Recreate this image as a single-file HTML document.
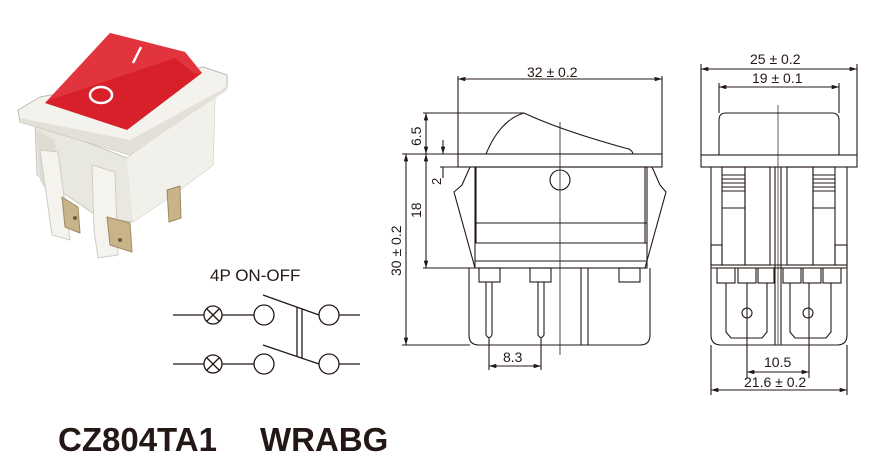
<!DOCTYPE html>
<html><head><meta charset="utf-8"><style>
body{margin:0;background:#fff}
svg{display:block}
text{font-family:"Liberation Sans",sans-serif;fill:#231815}
</style></head><body>
<svg width="892" height="462" viewBox="0 0 892 462" xmlns="http://www.w3.org/2000/svg">
<defs>
<marker id="a" viewBox="0 0 10 6" refX="10" refY="3" markerWidth="8" markerHeight="4" orient="auto-start-reverse"><path d="M0,0 L10,3 L0,6 Z" fill="#231815"/></marker>
</defs>
<!-- photo -->
<g stroke-linejoin="round">
<polygon points="35,122 127,158 215,92 213,165 173,195 133,222 100,218 37,175" fill="#e9e8e0" stroke="#c9c7bd"/>
<polygon points="127,158 215,92 213,165 173,195 133,222" fill="#f1f0ea"/>
<polygon points="36,130 55,140 60,215 40,180" fill="#dedcd2"/>
<polygon points="92,165 115,172 118,255 98,258 94,230" fill="#f4f3ee" stroke="#cfcdc3"/>
<polygon points="40,150 58,152 70,240 52,235" fill="#f4f3ee" stroke="#cfcdc3"/>
<polygon points="62,197 78,207 80,233 65,227" fill="#c9b48a" stroke="#9c8a62"/>
<polygon points="107,217 130,223 132,252 110,245" fill="#c9b48a" stroke="#9c8a62"/>
<polygon points="167,190 180,186 181,218 169,222" fill="#c9b48a" stroke="#9c8a62"/>
<circle cx="75" cy="218" r="2" fill="#6b5a3a"/><circle cx="120" cy="240" r="2" fill="#6b5a3a"/>
<polygon points="18,110 40,97 203,67 227,75 227,87 130,155 20,122" fill="#f3f2ec" stroke="#bdbab0"/>
<polygon points="130,140 227,87 227,90 130,155 20,122 20,118" fill="#e2e0d8"/>
<polygon points="110,33 185,52 202,73 127,130 45,103" fill="#d8202b"/>
<polygon points="110,33 185,52 202,73 195,74 175,58 50,100 45,103" fill="#e8424a" opacity=".6"/>
<line x1="141" y1="47" x2="133" y2="63" stroke="#fff" stroke-width="2.5"/>
<ellipse cx="101" cy="95" rx="11" ry="8" fill="none" stroke="#fff" stroke-width="2.5"/>
</g>
<!-- schematic -->
<text x="210" y="281" font-size="17">4P  ON-OFF</text>
<g stroke="#231815" stroke-width="1.3" fill="none">
<line x1="173" y1="315" x2="204" y2="315"/><circle cx="213" cy="315" r="9"/>
<line x1="207" y1="309" x2="219" y2="321"/><line x1="219" y1="309" x2="207" y2="321"/>
<line x1="222" y1="315" x2="254" y2="315"/><circle cx="264" cy="315" r="10"/>
<line x1="263" y1="295" x2="319" y2="315"/><circle cx="329" cy="315" r="10"/><line x1="339" y1="315" x2="360" y2="315"/>
<line x1="173" y1="364" x2="204" y2="364"/><circle cx="213" cy="364" r="9"/>
<line x1="207" y1="358" x2="219" y2="370"/><line x1="219" y1="358" x2="207" y2="370"/>
<line x1="222" y1="364" x2="254" y2="364"/><circle cx="264" cy="364" r="10"/>
<line x1="263" y1="345" x2="319" y2="364"/><circle cx="329" cy="364" r="10"/><line x1="339" y1="364" x2="360" y2="364"/>
<line x1="297" y1="307" x2="297" y2="356"/><line x1="302" y1="309" x2="302" y2="358"/>
</g>
<!-- middle view -->
<g stroke="#231815" stroke-width="1.1" fill="none">
<line x1="458" y1="76" x2="458" y2="154"/><line x1="662" y1="76" x2="662" y2="154"/>
<line x1="458" y1="79" x2="662" y2="79" marker-start="url(#a)" marker-end="url(#a)"/>
<path d="M486,154 Q500,120 524,113 Q560,130 625,148 Q632,149 633,154"/>
<rect x="458" y="154" width="204" height="13"/>
<rect x="475" y="167" width="172" height="101"/>
<line x1="476" y1="167" x2="476" y2="243"/><line x1="645" y1="167" x2="645" y2="243"/>
<line x1="475" y1="223" x2="647" y2="223"/><line x1="475" y1="243" x2="647" y2="243"/><line x1="475" y1="261" x2="647" y2="261"/>
<path d="M470,167 L462,185 L454,192 L470,250 L475,268"/>
<path d="M652,167 L660,185 L666,192 L650,250 L645,268"/>
<circle cx="560" cy="180" r="10"/>
<path d="M469,268 L469,335 Q469,345 479,345 L640,345 Q650,345 650,335 L650,268"/>
<rect x="479" y="268" width="21" height="14"/><rect x="530" y="268" width="21" height="14"/><rect x="619" y="268" width="21" height="14"/>
<path d="M486,282 L486,335 Q489,340 492,335 L492,282"/>
<path d="M538,282 L538,335 Q541,340 544,335 L544,282"/>
<line x1="581" y1="268" x2="581" y2="345"/><line x1="588" y1="268" x2="588" y2="345"/>
<line x1="560" y1="122" x2="560" y2="355" stroke-width=".8"/>
<line x1="423" y1="113" x2="524" y2="113"/><line x1="402" y1="154" x2="458" y2="154"/>
<line x1="440" y1="167" x2="475" y2="167"/><line x1="423" y1="268" x2="475" y2="268"/><line x1="402" y1="345" x2="470" y2="345"/>
<line x1="406" y1="154" x2="406" y2="345" marker-start="url(#a)" marker-end="url(#a)"/>
<line x1="426" y1="113" x2="426" y2="154" marker-start="url(#a)" marker-end="url(#a)"/>
<line x1="426" y1="154" x2="426" y2="268" marker-start="url(#a)" marker-end="url(#a)"/>
<line x1="443" y1="140" x2="443" y2="154" marker-end="url(#a)"/>
<line x1="443" y1="167" x2="443" y2="178"/>
<line x1="489" y1="337" x2="489" y2="370"/><line x1="541" y1="337" x2="541" y2="370"/>
<line x1="489" y1="366" x2="541" y2="366" marker-start="url(#a)" marker-end="url(#a)"/>
</g>
<text x="527" y="77" font-size="14">32 ± 0.2</text>
<text transform="translate(421,146) rotate(-90)" font-size="14">6.5</text>
<text transform="translate(441,185) rotate(-90)" font-size="13">2</text>
<text transform="translate(421,218) rotate(-90)" font-size="14">18</text>
<text transform="translate(401,276) rotate(-90)" font-size="14">30 ± 0.2</text>
<text x="503" y="362" font-size="14">8.3</text>
<!-- right view -->
<g stroke="#231815" stroke-width="1.1" fill="none">
<line x1="701" y1="64" x2="701" y2="155"/><line x1="857" y1="64" x2="857" y2="155"/>
<line x1="719" y1="83" x2="719" y2="113"/><line x1="839" y1="83" x2="839" y2="113"/>
<line x1="701" y1="69" x2="857" y2="69" marker-start="url(#a)" marker-end="url(#a)"/>
<line x1="719" y1="87" x2="839" y2="87" marker-start="url(#a)" marker-end="url(#a)"/>
<path d="M719,155 L719,120 Q719,113 726,113 L832,113 Q839,113 839,120 L839,155"/>
<rect x="701" y="155" width="156" height="12"/>
<line x1="711" y1="167" x2="711" y2="268"/><line x1="847" y1="167" x2="847" y2="268"/>
<path d="M711,268 L711,335 Q711,345 721,345 L837,345 Q847,345 847,335 L847,268 Z"/>
<line x1="711" y1="265" x2="847" y2="265"/>
<line x1="775" y1="167" x2="775" y2="345"/><line x1="781" y1="167" x2="781" y2="345"/>
<line x1="778" y1="105" x2="778" y2="345" stroke-width=".7"/>
<rect x="722" y="167" width="23" height="98"/><rect x="745" y="167" width="25" height="98"/>
<rect x="813" y="167" width="22" height="98"/><rect x="787" y="167" width="26" height="98"/>
<line x1="722" y1="175" x2="745" y2="175"/><line x1="722" y1="179" x2="745" y2="179"/><line x1="722" y1="183" x2="745" y2="183"/><line x1="722" y1="187" x2="745" y2="187"/><line x1="722" y1="191" x2="745" y2="191"/><line x1="722" y1="208" x2="745" y2="208"/>
<line x1="813" y1="175" x2="835" y2="175"/><line x1="813" y1="179" x2="835" y2="179"/><line x1="813" y1="183" x2="835" y2="183"/><line x1="813" y1="187" x2="835" y2="187"/><line x1="813" y1="191" x2="835" y2="191"/><line x1="813" y1="208" x2="835" y2="208"/>
<rect x="711" y="245" width="11" height="20"/><rect x="835" y="245" width="12" height="20"/>
<rect x="717" y="268" width="18" height="15"/><rect x="738" y="268" width="18" height="15"/><rect x="758" y="268" width="16" height="15"/>
<rect x="783" y="268" width="18" height="15"/><rect x="803" y="268" width="18" height="15"/><rect x="823" y="268" width="18" height="15"/>
<path d="M726,283 L726,332 L731,338 L762,338 L767,332 L767,283"/>
<path d="M790,283 L790,332 L795,338 L826,338 L831,332 L831,283"/>
<circle cx="747" cy="313" r="5"/><circle cx="808" cy="313" r="5"/>
<line x1="747" y1="283" x2="747" y2="378"/><line x1="809" y1="283" x2="809" y2="378"/>
<line x1="711" y1="345" x2="711" y2="395"/><line x1="847" y1="345" x2="847" y2="395"/>
<line x1="747" y1="372" x2="809" y2="372" marker-start="url(#a)" marker-end="url(#a)"/>
<line x1="711" y1="390" x2="847" y2="390" marker-start="url(#a)" marker-end="url(#a)"/>
</g>
<text x="750" y="64" font-size="14">25 ± 0.2</text>
<text x="752" y="83" font-size="14">19 ± 0.1</text>
<text x="764" y="367" font-size="14">10.5</text>
<text x="744" y="387" font-size="14">21.6 ± 0.2</text>
<!-- title -->
<text x="58" y="451" font-size="33" font-weight="bold">CZ804TA1<tspan x="260">WRABG</tspan></text>
</svg>
</body></html>
